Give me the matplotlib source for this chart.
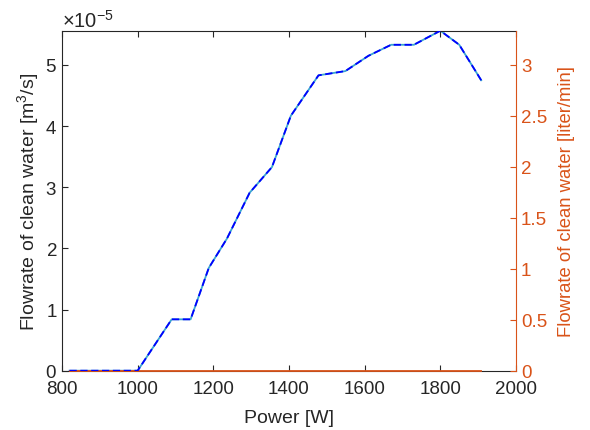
import numpy as np
import matplotlib
matplotlib.use("Agg")
import matplotlib.pyplot as plt
from matplotlib.ticker import ScalarFormatter

plt.rcParams["font.family"] = ["Liberation Sans", "DejaVu Sans"]
plt.rcParams["mathtext.fontset"] = "custom"
plt.rcParams["mathtext.rm"] = "Liberation Sans"
plt.rcParams["mathtext.it"] = "Liberation Sans"
plt.rcParams["axes.unicode_minus"] = False

# ---------------------------- Data -----------------------------------
power = [820, 1000, 1090, 1140, 1188, 1236, 1296, 1355, 1405, 1478,
         1549, 1610, 1670, 1730, 1800, 1850, 1908]
flow_m3s = [0.0, 0.0, 0.84e-5, 0.84e-5, 1.68e-5, 2.16e-5, 2.91e-5, 3.33e-5,
            4.17e-5, 4.83e-5, 4.90e-5, 5.15e-5, 5.33e-5, 5.33e-5, 5.56e-5,
            5.33e-5, 4.75e-5]
flow_lmin_base = [0.0] * len(power)  # orange right-axis line lying on zero
M3S_TO_LMIN = 60000.0

x_ticks = [800, 1000, 1200, 1400, 1600, 1800, 2000]
left_ticks = [0, 1e-5, 2e-5, 3e-5, 4e-5, 5e-5]
right_ticks = [0, 0.5, 1, 1.5, 2, 2.5, 3]
right_labels = ["0", "0.5", "1", "1.5", "2", "2.5", "3"]

BLUE = "#0000ff"
TEAL = "#3aa6d0"
ORANGE = "#d95319"
DARK = "#262626"
FS = 13.5

# ---------------------------- Plot -----------------------------------
fig = plt.figure(figsize=(5.9, 4.31), dpi=100)
ax = fig.add_axes([0.105, 0.1376, 0.7696, 0.7888])
ax2 = ax.twinx()

ymax = max(flow_m3s)
ax.plot(power, flow_m3s, color=TEAL, lw=1.3, zorder=2)
ax.set_xlim(800, 2000)
ax.set_ylim(0, ymax)
ax.set_xticks(x_ticks)
ax.set_yticks(left_ticks)
fmt = ScalarFormatter(useMathText=True)
fmt.set_powerlimits((0, 0))
ax.yaxis.set_major_formatter(fmt)
ax.yaxis.get_offset_text().set_fontsize(14.5)
ax.yaxis.get_offset_text().set_color(DARK)

ax.tick_params(axis="both", direction="in", length=4, labelsize=FS,
               colors=DARK, top=True, right=False)
ax.tick_params(axis="x", pad=7)
for s in ["left", "bottom", "top"]:
    ax.spines[s].set_color(DARK)
ax.spines["right"].set_visible(False)
ax.set_xlabel("Power [W]", fontsize=14, color=DARK, labelpad=8)
ax.set_ylabel("Flowrate of clean water [m$^3$/s]", fontsize=14, color=DARK,
              labelpad=3)

ax2.plot(power, flow_lmin_base, color=ORANGE, lw=1.3, clip_on=False, zorder=2)
ax2.plot(power, np.array(flow_m3s) * M3S_TO_LMIN, color=BLUE, lw=1.3,
         dashes=(4, 2), zorder=3)
ax2.set_ylim(0, ymax * M3S_TO_LMIN)
ax2.set_yticks(right_ticks)
ax2.set_yticklabels(right_labels)
ax2.tick_params(axis="y", direction="in", length=4, labelsize=FS,
                colors=ORANGE)
for s in ["left", "bottom", "top"]:
    ax2.spines[s].set_visible(False)
ax2.spines["right"].set_color(ORANGE)
ax2.set_ylabel("Flowrate of clean water [liter/min]", fontsize=13.3,
               color=ORANGE, labelpad=8)

fig.savefig("out.png", dpi=100)
